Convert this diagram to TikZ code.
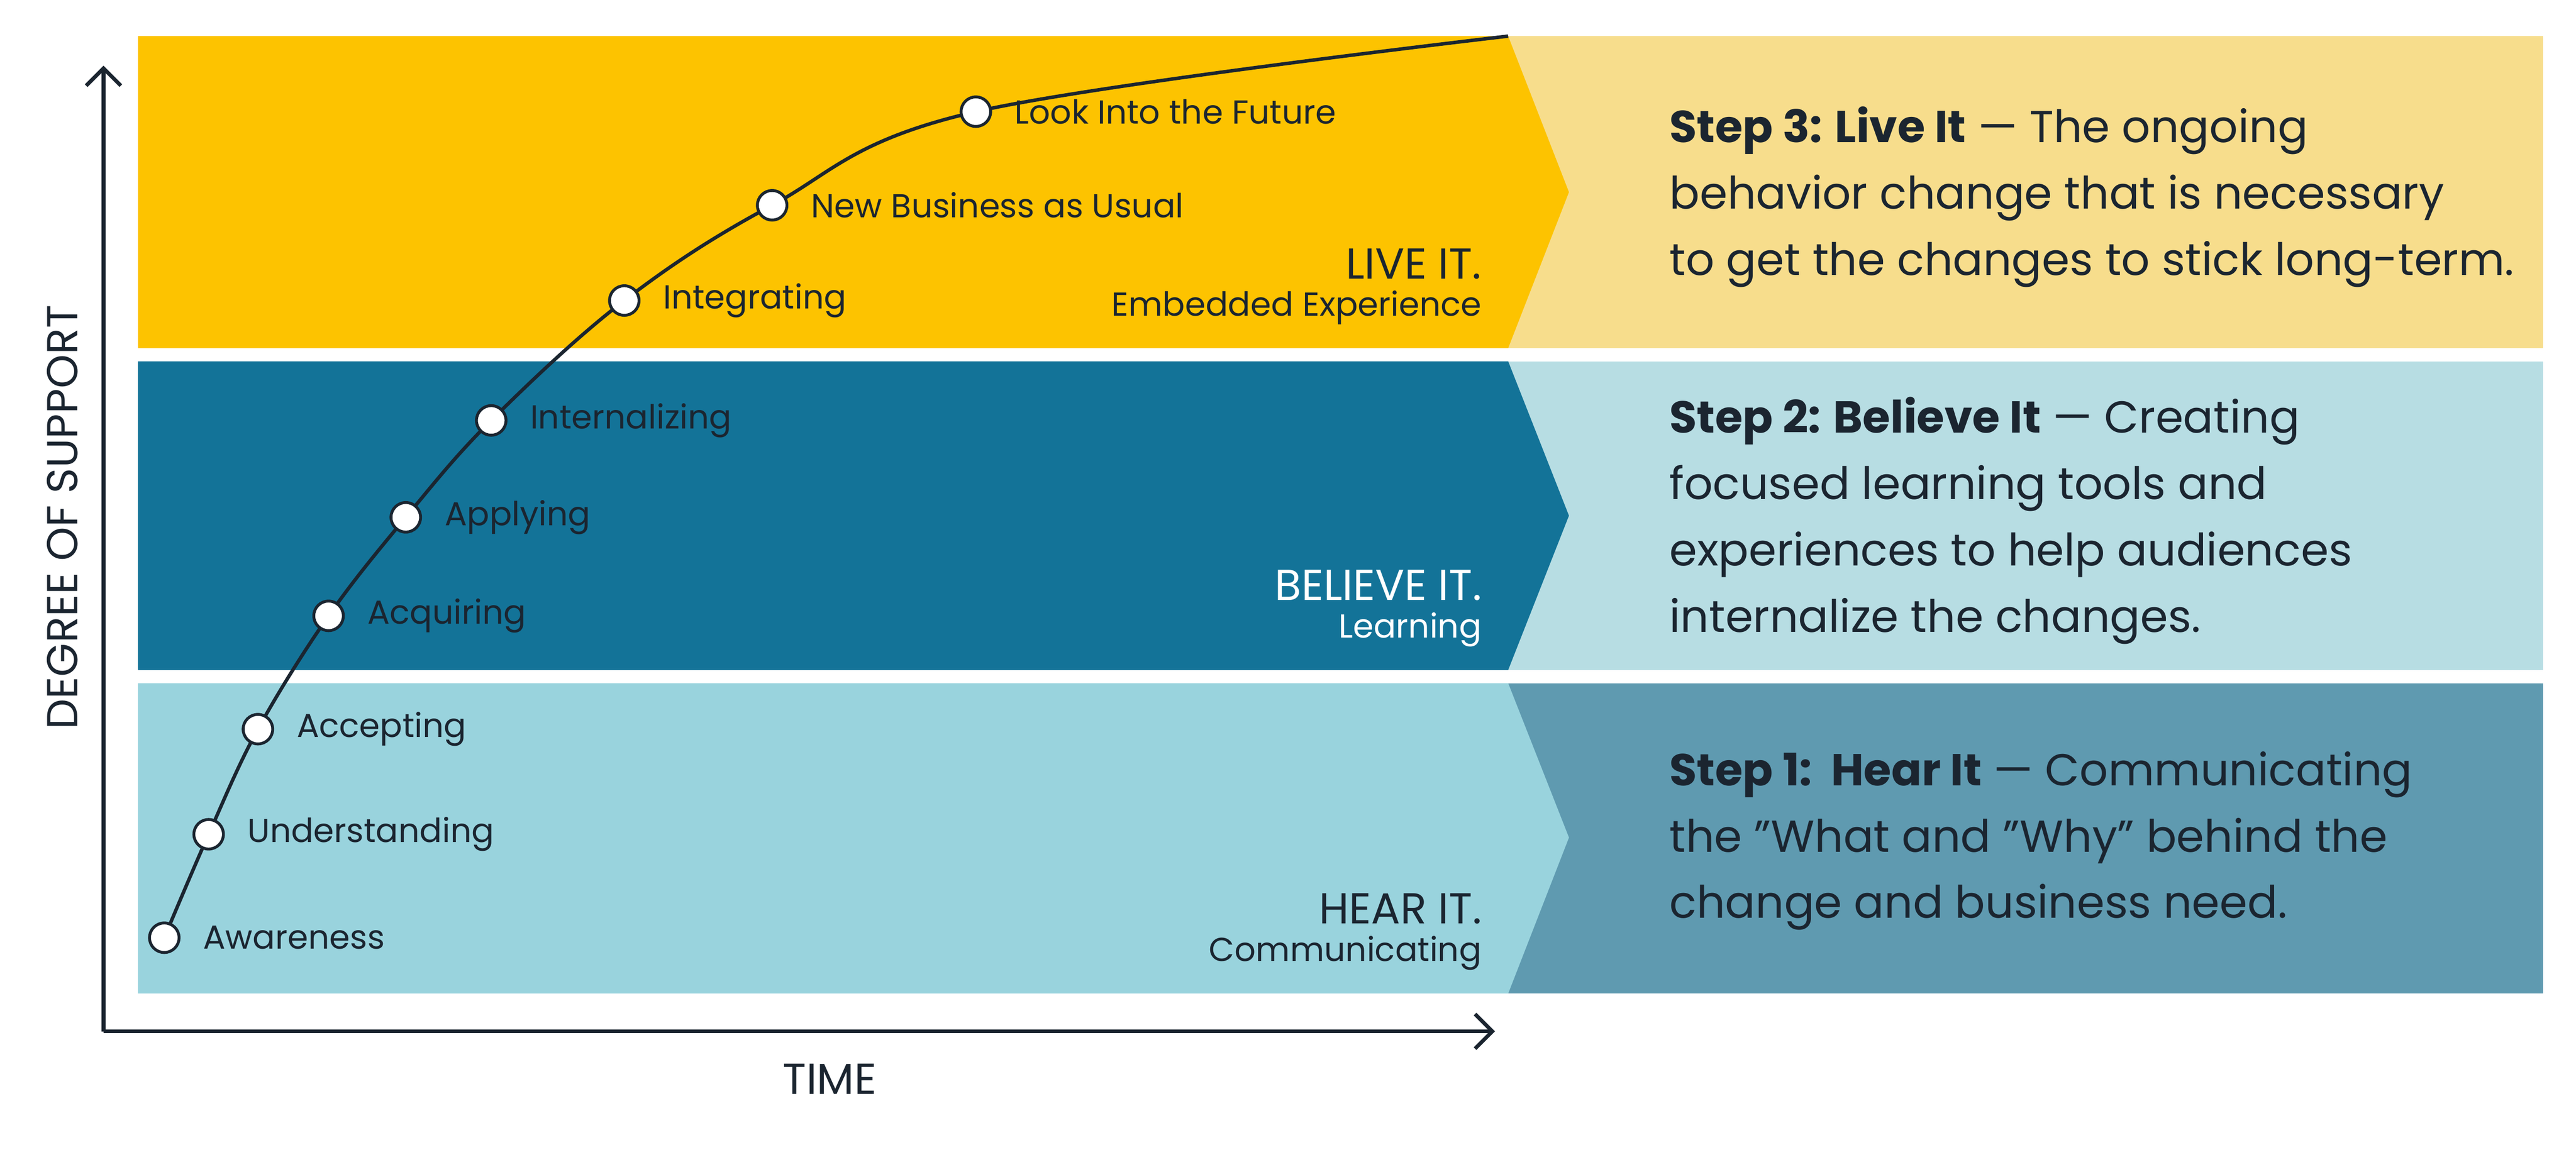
\documentclass[tikz,border=0pt]{standalone}
\usepackage{fontspec}
\setmainfont{Poppins}
\usetikzlibrary{arrows.meta}
\definecolor{liveband}{HTML}{FDC300}
\definecolor{livetext}{HTML}{F7DD8C}
\definecolor{believeband}{HTML}{137398}
\definecolor{believetext}{HTML}{B7DDE3}
\definecolor{hearband}{HTML}{99D3DD}
\definecolor{heartext}{HTML}{5F9AB0}
\definecolor{ink}{HTML}{1B2530}
\newcommand{\subfont}{\fontsize{11.5}{13}\selectfont}
\begin{document}
\begin{tikzpicture}[x=0.02cm,y=-0.02cm,
    dot/.style={circle,draw=ink,fill=white,line width=1pt,minimum size=0.36cm,inner sep=0pt},
    stage/.style={anchor=west,font=\fontsize{11.5}{13}\selectfont,text=ink},
    bandname/.style={anchor=south east,align=right,text=ink,font=\fontsize{15}{16}\selectfont},
    steptext/.style={anchor=west,align=left,text=ink,font=\fontsize{15.5}{23}\selectfont}]
    \useasboundingbox (0,0) rectangle (1568,700);
    % bands
    \fill[livetext] (918,22) rectangle (1548,212);
    \fill[believetext] (918,220) rectangle (1548,408);
    \fill[heartext] (918,416) rectangle (1548,605);
    \fill[liveband] (84,22) -- (918,22) -- (955,117) -- (918,212) -- (84,212) -- cycle;
    \fill[believeband] (84,220) -- (918,220) -- (955,314) -- (918,408) -- (84,408) -- cycle;
    \fill[hearband] (84,416) -- (918,416) -- (955,510) -- (918,605) -- (84,605) -- cycle;
    % band titles
    \node[bandname] (live) at (908,204) {LIVE IT.\\[-3pt]{\subfont Embedded Experience}};
    \node[bandname,text=white] (believe) at (908,400) {BELIEVE IT.\\[-3pt]{\subfont Learning}};
    \node[bandname] (hear) at (908,597) {HEAR IT.\\[-3pt]{\subfont Communicating}};
    % step descriptions
    \node[steptext] (step3) at (1010,120) {\textbf{Step 3: Live It} — The ongoing\\behavior change that is necessary\\to get the changes to stick long-term.};
    \node[steptext] (step2) at (1010,317) {\textbf{Step 2: Believe It} — Creating\\focused learning tools and\\experiences to help audiences\\internalize the changes.};
    \node[steptext] (step1) at (1010,512) {\textbf{Step 1:\ \ Hear It} — Communicating\\the ”What and ”Why” behind the\\change and business need.};
    % axes
    \coordinate (origin) at (63,628);
    \coordinate (ytop) at (63,40);
    \coordinate (xend) at (910,628);
    \draw[ink,line width=1.3pt,-{Straight Barb[length=6pt,width=12pt]}] (origin) -- (ytop);
    \draw[ink,line width=1.3pt,-{Straight Barb[length=6pt,width=12pt]}] (origin) -- (xend);
    \node[rotate=90,text=ink,font=\fontsize{15}{16}\selectfont] (ylab) at (38,315) {DEGREE OF SUPPORT};
    \node[text=ink,font=\fontsize{15}{16}\selectfont] (xlab) at (505,657) {TIME};
    % adoption curve
    \coordinate (top) at (918,22);
    \foreach \name/\x/\y in {p1/100/571,p2/127/508,p3/157/444,p4/200/375,p5/247/315,p6/299/256,p7/380/183,p8/470/125,p9/594/68}
        \coordinate (\name) at (\x,\y);
    \draw[ink,line width=1.2pt] plot[smooth,tension=0.6] coordinates {(p1) (p2) (p3) (p4) (p5) (p6) (p7) (p8) (p9) (top)};
    \foreach \name/\label in {p1/Awareness,p2/Understanding,p3/Accepting,p4/Acquiring,p5/Applying,p6/Internalizing,p7/Integrating,p8/New Business as Usual,p9/Look Into the Future}{
        \node[dot] (\name-dot) at (\name) {};
        \node[stage,xshift=0.35cm] (\name-label) at (\name) {\label};
    }
\end{tikzpicture}
\end{document}
